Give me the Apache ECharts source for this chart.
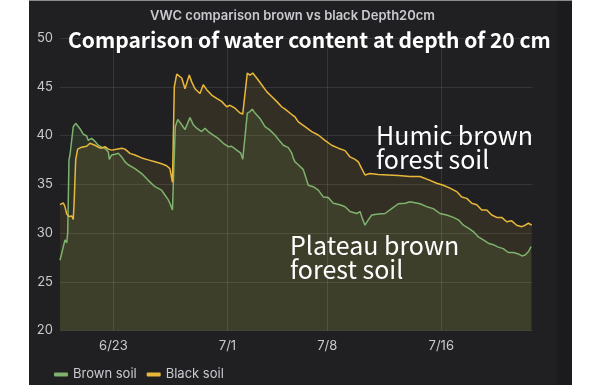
<!DOCTYPE html>
<html>
<head>
<meta charset="utf-8">
<script src="https://cdn.jsdelivr.net/npm/echarts@6/dist/echarts.min.js"></script>
<style>
html,body{margin:0;padding:0;background:#ffffff;}
#c{width:600px;height:385px;}
</style>
</head>
<body>
<div id="c"></div>
<script>
// Days relative to 6/23 00:00
const tickDays = [0, 8, 15, 23];
const tickLabels = ['6/23', '7/1', '7/8', '7/16'];
const yTicks = [20, 25, 30, 35, 40, 45, 50];

const brownDays = [-3.75,-3.40,-3.28,-3.21,-3.12,-3.05,-2.93,-2.82,-2.65,-2.35,-2.12,-1.88,-1.77,-1.53,-1.30,-1.07,-0.83,-0.60,-0.36,-0.29,-0.13,0.11,0.34,0.58,0.81,1.04,1.51,1.98,2.44,2.91,3.38,3.61,3.85,3.96,4.14,4.21,4.34,4.51,4.79,5.02,5.14,5.37,5.60,5.84,6.19,6.42,6.65,7.00,7.35,7.71,8.06,8.29,8.65,8.93,9.07,9.23,9.39,9.58,9.74,9.93,10.28,10.63,10.98,11.33,11.68,11.92,12.27,12.51,12.62,12.74,12.97,13.32,13.67,14.02,14.37,14.72,15.07,15.42,15.89,16.25,16.60,17.07,17.30,17.46,17.65,17.88,18.12,18.58,19.05,19.52,19.99,20.46,20.81,21.51,21.98,22.44,22.91,23.38,23.85,24.20,24.55,24.90,25.25,25.60,25.95,26.30,26.65,27.00,27.35,27.71,28.06,28.41,28.65,28.88,29.12,29.30];
const brownVWC = [27.2,29.3,29.0,30.0,37.5,38.0,38.2,40.9,41.25,40.7,40.15,39.95,39.5,39.7,39.4,39.0,38.8,38.7,38.3,37.55,38.0,38.07,38.17,37.8,37.3,37.0,36.6,36.1,35.4,34.75,34.4,33.9,33.4,33.05,32.35,35.5,40.9,41.65,41.1,40.6,40.7,41.85,41.1,40.75,40.4,40.75,40.4,40.05,39.7,39.2,38.85,38.9,38.5,38.2,37.55,39.9,42.3,42.45,42.7,42.3,41.75,40.9,40.55,40.05,39.4,39.0,38.75,38.2,37.65,37.3,37.0,36.5,34.9,34.75,34.4,33.7,33.65,33.05,32.9,32.7,32.2,32.0,32.2,31.5,30.8,31.35,31.85,31.95,32.0,32.5,33.0,33.05,33.2,33.0,32.7,32.5,32.0,31.85,31.6,31.35,30.8,30.5,30.15,29.6,29.3,28.95,28.8,28.55,28.4,28.0,28.0,27.85,27.65,27.75,28.1,28.6];

const blackDays = [-3.75,-3.52,-3.40,-3.28,-3.12,-2.93,-2.82,-2.75,-2.65,-2.51,-2.23,-1.88,-1.65,-1.53,-1.30,-1.07,-0.83,-0.60,-0.36,-0.13,0.22,0.58,0.81,1.16,1.51,1.98,2.44,2.91,3.38,3.73,3.96,4.14,4.27,4.44,4.55,4.79,5.02,5.14,5.32,5.49,5.72,6.07,6.30,6.54,6.89,7.24,7.59,7.94,8.18,8.53,8.88,9.07,9.23,9.39,9.58,9.77,10.05,10.40,10.75,11.10,11.45,11.80,12.04,12.51,12.74,12.97,13.44,13.91,14.37,14.84,15.31,15.78,16.25,16.60,16.95,17.18,17.42,17.65,18.00,18.58,19.28,19.99,20.81,21.51,22.21,22.68,23.14,23.61,24.08,24.44,24.79,25.14,25.49,25.84,26.19,26.54,26.89,27.24,27.59,27.94,28.29,28.65,28.88,29.12,29.35];
const blackVWC = [32.9,33.1,32.7,31.95,31.7,31.75,31.4,33.4,37.5,38.6,38.8,38.9,39.2,39.4,39.0,38.8,38.7,38.85,38.6,38.5,38.6,38.7,38.6,38.17,38.0,37.7,37.5,37.3,37.1,36.9,36.6,35.2,45.0,46.3,46.4,45.9,44.8,44.7,46.2,45.5,44.8,44.3,45.2,44.7,44.15,43.8,43.5,42.95,43.1,42.8,42.3,42.2,44.3,46.4,46.2,46.4,45.9,45.2,44.5,44.0,43.5,42.95,42.7,42.15,41.9,41.4,40.9,40.4,40.05,39.5,39.0,38.7,38.45,37.8,37.55,37.3,36.6,35.95,36.1,36.0,35.95,35.9,35.8,35.8,35.4,35.1,34.9,34.6,34.25,33.7,33.55,33.05,32.9,32.35,32.35,31.85,31.6,31.6,31.15,31.25,30.8,30.65,30.8,31.0,30.8];

const zip = (xs, ys) => xs.map((x, i) => [x, ys[i]]);

const chart = echarts.init(document.getElementById('c'), null, {renderer: 'canvas'});
const GREEN = '#7EB26D';
const YELLOW = '#EAB839';
const gridCol = 'rgba(255,255,255,0.10)';
const cjk = '"Noto Sans CJK JP", "Noto Sans", sans-serif';
const axisTxt = '#c9c9d0';

chart.setOption({
  animation: false,
  backgroundColor: '#ffffff',
  graphic: [
    {type: 'rect', shape: {x: 29, y: 1, width: 528, height: 384}, style: {fill: '#202022'}, z: -10},
    {type: 'rect', shape: {x: 557, y: 1, width: 15, height: 384}, style: {fill: '#1b1b1e'}, z: -10},
    {type: 'rect', shape: {x: 29, y: 0, width: 543, height: 1}, style: {fill: '#8a8a8a'}, z: -10}
  ],
  title: [
    {text: 'VWC comparison brown vs black Depth20cm', left: 145, top: 5,
     textStyle: {color: '#c9c9d0', fontSize: 13, fontWeight: 600, fontFamily: 'Inter'}},
    {text: 'Comparison of water content at depth of 20 cm', left: 63, top: 25,
     textStyle: {color: '#ffffff', fontSize: 21, fontWeight: 'bold', fontFamily: cjk, lineHeight: 21}},
    {text: 'Humic brown\nforest soil', left: 371, top: 118,
     textStyle: {color: '#ffffff', fontSize: 25, fontWeight: 'normal', fontFamily: cjk, lineHeight: 24}},
    {text: 'Plateau brown\nforest soil', left: 285, top: 228,
     textStyle: {color: '#ffffff', fontSize: 25, fontWeight: 'normal', fontFamily: cjk, lineHeight: 24}}
  ],
  legend: {
    left: 49, top: 363, itemWidth: 14, itemHeight: 4, itemGap: 10, icon: 'roundRect',
    textStyle: {color: axisTxt, fontSize: 13, fontFamily: 'Inter'},
    data: ['Brown soil', 'Black soil']
  },
  grid: {left: 60, right: 67.5, top: 38, bottom: 54.5, containLabel: false},
  xAxis: {
    type: 'value', min: -3.75, max: 29.4,
    axisLine: {show: false}, axisTick: {show: false}, splitLine: {show: false},
    axisLabel: {
      customValues: tickDays, color: axisTxt, fontSize: 13, fontFamily: 'Inter', margin: 9,
      formatter: v => tickLabels[tickDays.indexOf(v)] || ''
    }
  },
  yAxis: {
    type: 'value', min: yTicks[0], max: yTicks[yTicks.length - 1], interval: 5,
    axisLine: {show: false}, axisTick: {show: false},
    axisLabel: {color: axisTxt, fontSize: 13, fontFamily: 'Inter', margin: 7},
    splitLine: {lineStyle: {color: gridCol, width: 1}}
  },
  series: [
    {
      name: 'Brown soil', type: 'line', data: zip(brownDays, brownVWC), showSymbol: false,
      lineStyle: {color: GREEN, width: 1.5}, itemStyle: {color: GREEN},
      areaStyle: {color: GREEN, opacity: 0.12},
      markLine: {
        silent: true, symbol: 'none', label: {show: false},
        lineStyle: {color: gridCol, width: 1, type: 'solid'},
        data: tickDays.map(d => ({xAxis: d}))
      }
    },
    {
      name: 'Black soil', type: 'line', data: zip(blackDays, blackVWC), showSymbol: false,
      lineStyle: {color: YELLOW, width: 1.5}, itemStyle: {color: YELLOW},
      areaStyle: {color: YELLOW, opacity: 0.10}
    }
  ]
});
</script>
</body>
</html>
